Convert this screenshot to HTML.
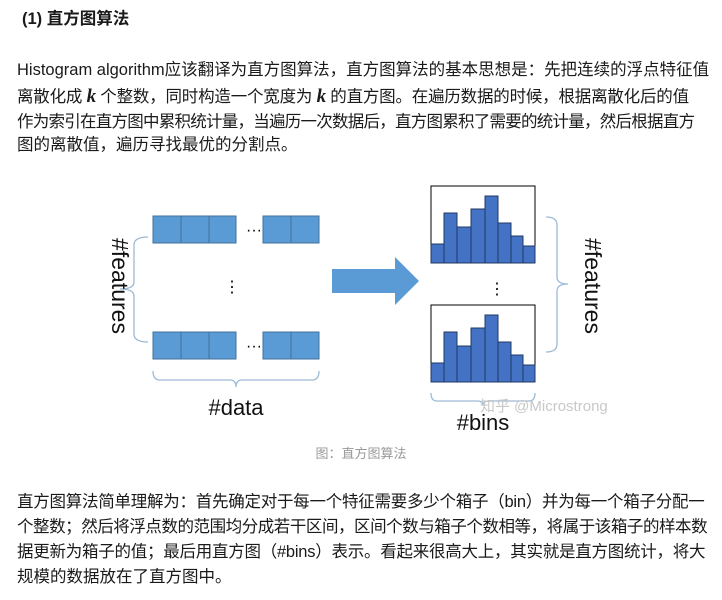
<!DOCTYPE html>
<html><head><meta charset="utf-8"><style>
body{margin:0;width:722px;height:600px;background:#fff;position:relative;overflow:hidden;font-family:"Liberation Sans","Noto Sans CJK SC",sans-serif;color:#1a1a1a}
.l{position:absolute;left:17px;font-size:16.5px;line-height:20px;white-space:nowrap}
.k{font-family:"Liberation Serif",serif;font-style:italic;font-weight:bold;font-size:19px}
</style></head><body>
<div class="l" style="top:9px;left:22px;font-weight:bold">(1) 直方图算法</div>
<div class="l" style="top:60px">Histogram algorithm应该翻译为直方图算法，直方图算法的基本思想是：先把连续的浮点特征值</div>
<div class="l" style="top:87px;letter-spacing:-0.2px">离散化成 <span class="k">k</span> 个整数，同时构造一个宽度为 <span class="k">k</span> 的直方图。在遍历数据的时候，根据离散化后的值</div>
<div class="l" style="top:112px;letter-spacing:-0.75px">作为索引在直方图中累积统计量，当遍历一次数据后，直方图累积了需要的统计量，然后根据直方</div>
<div class="l" style="top:135px">图的离散值，遍历寻找最优的分割点。</div>

<svg style="position:absolute;left:0;top:0" width="722" height="470" font-family="Liberation Sans, sans-serif">
<g fill="#5b9bd5" stroke="#41719c" stroke-width="1">
<rect x="153" y="216" width="28" height="27"/><rect x="181" y="216" width="28" height="27"/><rect x="209" y="216" width="27" height="27"/>
<rect x="263" y="216" width="28" height="27"/><rect x="291" y="216" width="28" height="27"/>
<rect x="153" y="332" width="28" height="27"/><rect x="181" y="332" width="28" height="27"/><rect x="209" y="332" width="27" height="27"/>
<rect x="263" y="332" width="28" height="27"/><rect x="291" y="332" width="28" height="27"/>
</g>
<g font-size="16" fill="#000"><text x="246" y="235">···</text><text x="246" y="351">···</text></g>
<text x="232" y="292" font-size="16" text-anchor="middle">⋮</text>
<g fill="none" stroke="#9dbbd6" stroke-width="1.3">
<path d="M148 237 Q134 237 134 245 L134 282 Q134 289 120 289 Q134 289 134 296 L134 334 Q134 342 148 342"/>
<path d="M153 371 Q153 380 160 380 L230 380 Q236 380 236 387 Q236 380 242 380 L312 380 Q319 380 319 371"/>
<path d="M546 217 Q557 217 557 225 L557 277 Q557 284 568 284 Q557 284 557 291 L557 344 Q557 352 546 352"/>
<path d="M431 393 Q431 401 437 401 L477 401 Q483 401 483 405 Q483 401 489 401 L529 401 Q535 401 535 393"/>
</g>
<text transform="translate(112,286) rotate(90)" font-size="23" text-anchor="middle" fill="#111">#features</text>
<text transform="translate(585,286) rotate(90)" font-size="23" text-anchor="middle" fill="#111">#features</text>
<text x="236" y="415" font-size="22" text-anchor="middle" fill="#111">#data</text>
<text x="483" y="430" font-size="22" text-anchor="middle" fill="#111">#bins</text>
<path d="M332 269 L395 269 L395 257 L419 281 L395 305 L395 293 L332 293 Z" fill="#5b9bd5"/>
<g id="h">
<rect x="431" y="186" width="104" height="77" fill="#fff" stroke="#000" stroke-width="1"/>
<g fill="#4472c4" stroke="#1f3864" stroke-width="1">
<rect x="431" y="244" width="13" height="19"/><rect x="444" y="213" width="13" height="50"/>
<rect x="457" y="227" width="14" height="36"/><rect x="471" y="209" width="14" height="54"/>
<rect x="485" y="196" width="13" height="67"/><rect x="498" y="223" width="13" height="40"/>
<rect x="511" y="236" width="12" height="27"/><rect x="523" y="246" width="12" height="17"/>
</g></g>
<use href="#h" transform="translate(0,119)"/>
<text x="497" y="294" font-size="16" text-anchor="middle">⋮</text>
<text x="480" y="411" font-size="15" fill="#c8c8c8" font-family="Liberation Sans, Noto Sans CJK SC, sans-serif">知乎 @Microstrong</text>
</svg>
<div class="l" style="top:444px;left:0;width:722px;text-align:center;font-size:13px;color:#999">图：直方图算法</div>
<div class="l" style="top:492px;letter-spacing:-0.25px">直方图算法简单理解为：首先确定对于每一个特征需要多少个箱子（bin）并为每一个箱子分配一</div>
<div class="l" style="top:517px;letter-spacing:-0.45px">个整数；然后将浮点数的范围均分成若干区间，区间个数与箱子个数相等，将属于该箱子的样本数</div>
<div class="l" style="top:542px;letter-spacing:-0.25px">据更新为箱子的值；最后用直方图（#bins）表示。看起来很高大上，其实就是直方图统计，将大</div>
<div class="l" style="top:567px">规模的数据放在了直方图中。</div>
</body></html>
